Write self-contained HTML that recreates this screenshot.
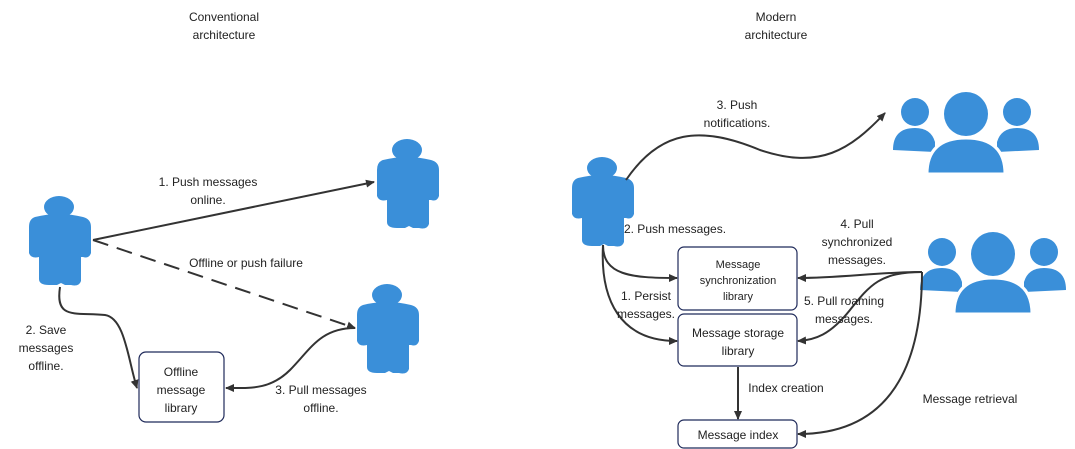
<!DOCTYPE html>
<html><head><meta charset="utf-8"><style>
body{margin:0;background:#fff}
svg{display:block;font-family:"Liberation Sans","DejaVu Sans",sans-serif;font-size:12px;fill:#222}
</style></head><body>
<svg width="1075" height="449" viewBox="0 0 1075 449" xmlns="http://www.w3.org/2000/svg">
<defs>
<marker id="a" markerWidth="10" markerHeight="10" refX="8" refY="5" orient="auto" markerUnits="userSpaceOnUse"><path d="M0,1 L9,5 L0,9 z" fill="#333"/></marker>
<g id="p"><ellipse cx="32" cy="12" rx="15" ry="11" fill="#3a8fd9"/><path d="M8,22 Q32,16 56,22 Q64,24 64,32 L64,58 Q62,64 56,62 L54,62 L54,86 Q52,92 44,90 L38,90 L34,88 L30,90 L22,90 Q12,90 12,84 L12,62 Q4,64 2,58 L2,32 Q2,24 8,22z" fill="#3a8fd9"/></g>
<g id="g"><circle cx="73" cy="24" r="22" fill="#3a8fd9"/><circle cx="22" cy="22" r="14" fill="#3a8fd9"/><circle cx="124" cy="22" r="14" fill="#3a8fd9"/><path d="M0,60 Q0,38 22,38 Q38,38 42,52 L42,62 Z" fill="#3a8fd9"/><path d="M146,60 Q146,38 124,38 Q108,38 104,52 L104,62 Z" fill="#3a8fd9"/><path d="M34,84 Q34,48 73,48 Q112,48 112,84 Z" fill="#3a8fd9" stroke="#fff" stroke-width="3"/></g>
</defs>
<text x="224" y="21" text-anchor="middle">Conventional</text>
<text x="224" y="39" text-anchor="middle">architecture</text>
<text x="776" y="21" text-anchor="middle">Modern</text>
<text x="776" y="39" text-anchor="middle">architecture</text>

<use href="#p" x="27" y="195"/>
<use href="#p" x="375" y="138"/>
<use href="#p" x="355" y="283"/>
<use href="#p" x="570" y="156"/>
<use href="#g" x="893" y="90"/>
<use href="#g" x="920" y="230"/>

<g fill="none" stroke="#333" stroke-width="2">
<path d="M93,240 L374,182" marker-end="url(#a)"/>
<path d="M93,240 L355,328" stroke-dasharray="16,9" marker-end="url(#a)"/>
<path d="M60,287 C55,320 75,312 105,315 C125,318 128,360 137,388" marker-end="url(#a)"/>
<path d="M355,328 C320,328 310,350 290,370 C270,390 250,388 226,388" marker-end="url(#a)"/>
<path d="M626,180 C660,130 700,125 760,150 C820,170 850,150 885,113" marker-end="url(#a)"/>
<path d="M603,245 C603,275 630,278 677,278" marker-end="url(#a)"/>
<path d="M603,245 C600,300 620,341 677,341" marker-end="url(#a)"/>
<path d="M922,272 C880,272 840,278 798,278" marker-end="url(#a)"/>
<path d="M922,272 C880,272 870,285 850,310 C830,335 815,340 798,341" marker-end="url(#a)"/>
<path d="M922,272 C922,380 880,434 798,434" marker-end="url(#a)"/>
<path d="M738,367 L738,419" marker-end="url(#a)"/>
</g>

<g fill="#fff" stroke="#1f2a5a" stroke-width="1.2">
<rect x="139" y="352" width="85" height="70" rx="7"/>
<rect x="678" y="247" width="119" height="63" rx="6"/>
<rect x="678" y="314" width="119" height="52" rx="6"/>
<rect x="678" y="420" width="119" height="28" rx="6"/>
</g>
<g text-anchor="middle">
<text x="181" y="376">Offline</text>
<text x="181" y="394">message</text>
<text x="181" y="412">library</text>
<text x="738" y="268" font-size="11">Message</text>
<text x="738" y="284" font-size="11">synchronization</text>
<text x="738" y="300" font-size="11">library</text>
<text x="738" y="337">Message storage</text>
<text x="738" y="355">library</text>
<text x="738" y="439">Message index</text>
<text x="208" y="186">1. Push messages</text>
<text x="208" y="204">online.</text>
<text x="246" y="267">Offline or push failure</text>
<text x="46" y="334">2. Save</text>
<text x="46" y="352">messages</text>
<text x="46" y="370">offline.</text>
<text x="321" y="394">3. Pull messages</text>
<text x="321" y="412">offline.</text>
<text x="737" y="109">3. Push</text>
<text x="737" y="127">notifications.</text>
<text x="675" y="233">2. Push messages.</text>
<text x="646" y="300">1. Persist</text>
<text x="646" y="318">messages.</text>
<text x="857" y="228">4. Pull</text>
<text x="857" y="246">synchronized</text>
<text x="857" y="264">messages.</text>
<text x="844" y="305">5. Pull roaming</text>
<text x="844" y="323">messages.</text>
<text x="786" y="392">Index creation</text>
<text x="970" y="403">Message retrieval</text>
</g>
</svg>
</body></html>
